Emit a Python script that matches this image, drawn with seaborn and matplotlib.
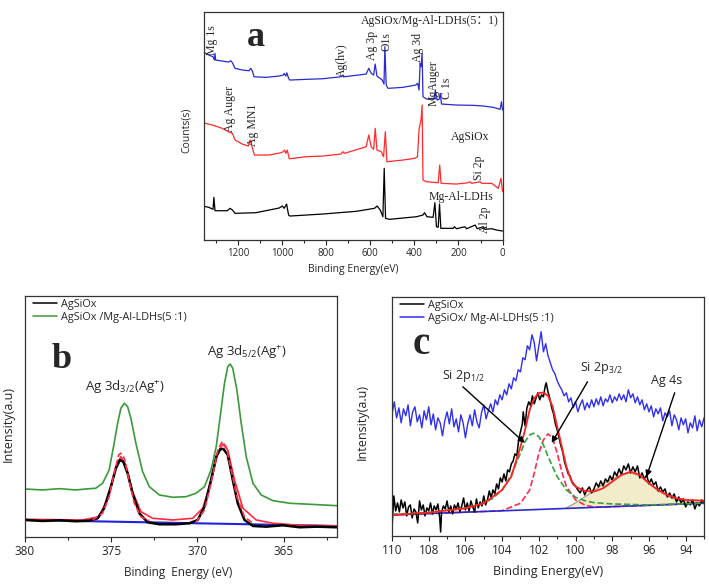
import matplotlib
matplotlib.use("Agg")
import matplotlib.pyplot as plt
import seaborn as sns
from matplotlib.ticker import MultipleLocator

sns.set_style("ticks")
plt.rcParams['font.family'] = ['Open Sans', 'DejaVu Sans']
plt.rcParams['mathtext.default'] = 'regular'

# ---------------- Panel a : survey spectra ----------------
a_blue_be = [1360, 1333, 1314, 1308, 1305, 1302, 1272, 1244, 1234, 1226, 1214, 1181, 1150, 1143, 1135, 1128,
             1074, 1014, 995, 991, 983, 979, 971, 965, 892, 816, 733, 725, 717, 619, 607, 596, 585, 578, 570,
             546, 538, 534, 528, 520, 452, 394, 385, 379, 374, 370, 365, 361, 345, 312, 305, 297, 288, 283,
             277, 209, 133, 87, 42, 11, 5, 0]
a_blue_val = [188.3, 185, 183.3, 180, 186.7, 180, 179, 178, 179.3, 177.3, 171.7, 170, 169.3, 171.7, 169, 163.3,
              162.7, 164, 165, 166.7, 164, 167.3, 161.7, 160, 160.7, 161.3, 163.3, 165, 163.3, 166, 171.7, 166.7,
              165, 176, 164, 160, 156, 193.3, 155, 151.7, 152.7, 155, 156.7, 150, 176.7, 173.3, 186.7, 143.3,
              141, 140.7, 149.3, 140, 140.7, 146.7, 136, 135, 134.7, 134, 132.7, 130.7, 138.3, 130]

a_red_be = [1360, 1317, 1272, 1244, 1234, 1226, 1214, 1181, 1154, 1145, 1135, 1126, 1059, 1006, 995, 989, 983,
            977, 968, 892, 816, 733, 725, 717, 619, 607, 596, 585, 578, 570, 550, 540, 532, 525, 452, 398, 386,
            379, 374, 370, 365, 361, 345, 292, 285, 279, 209, 156, 148, 140, 102, 95, 49, 19, 7, 0]
a_red_val = [117.3, 115, 111.7, 108.3, 107.3, 106.7, 100, 96, 94, 100, 91.7, 85, 85, 87.3, 88.3, 90, 86.7,
             90, 81.3, 83.3, 84, 86, 88.3, 86.7, 93.3, 105, 93.3, 90.7, 111.7, 90, 88.3, 83.3, 108.3, 78.3, 80,
             81.7, 83.3, 110, 116, 120, 135, 60, 58.3, 57.3, 75, 56.7, 56, 57.3, 58.3, 56.7, 58.3, 56.7, 56.7,
             51.7, 61.7, 48.3]

a_black_be = [1360, 1333, 1314, 1310, 1305, 1249, 1237, 1226, 1214, 1120, 1014, 999, 991, 980, 971, 965, 816,
              664, 581, 569, 555, 543, 537, 531, 513, 391, 361, 354, 343, 315, 307, 300, 292, 286, 280, 224,
              218, 209, 171, 163, 124, 115, 87, 80, 49, 27, 0]
a_black_val = [34, 32.7, 30.7, 42.7, 29.3, 29.3, 31.7, 30, 26.7, 27.3, 32, 34, 31.7, 36, 25, 24, 26,
               28.7, 31.7, 34, 30, 23.3, 71.7, 21.7, 20.7, 23.3, 25, 27.3, 23.3, 22.7, 37.3, 13.3, 12.7, 36,
               11.7, 11.7, 13.3, 11.3, 13.3, 11.3, 15, 11.3, 13.3, 10.7, 11.3, 10, 9]

# ---------------- Panel b : Ag 3d ----------------
b_green_be = [380.0, 379.0, 378.0, 377.05, 376.47, 375.9, 375.5, 375.12, 374.83, 374.63, 374.44, 374.24, 374.05,
              373.86, 373.57, 373.18, 372.79, 372.21, 371.43, 370.66, 370.08, 369.59, 369.21, 368.91, 368.68,
              368.43, 368.24, 368.10, 367.95, 367.71, 367.46, 367.17, 366.78, 366.30, 365.62, 364.65, 363.49,
              361.90]
b_green_val = [48, 47, 48.3, 47, 48, 48.7, 53.7, 67, 93.7, 113.7, 128.7, 133.7, 130.3, 118.7, 93.7, 65.3, 50.3,
               42, 39.7, 40.3, 43.7, 50.3, 67, 90.3, 120.3, 153.7, 170.3, 173, 168.7, 147, 113.7, 80.3, 53.7,
               42, 36.3, 33.7, 32.7, 31.3]

b_black_be = [380.0, 379.0, 378.0, 377.05, 376.28, 375.79, 375.41, 375.02, 374.73, 374.50, 374.30, 374.05, 373.76,
              373.37, 372.89, 372.21, 371.24, 370.47, 369.98, 369.59, 369.21, 368.91, 368.68, 368.49, 368.24,
              367.95, 367.66, 367.27, 366.78, 366.01, 365.04, 364.07, 363.10, 361.90]
b_black_val = [17, 16, 16.7, 15.7, 16.3, 18.7, 28.7, 50.3, 68.7, 77, 75.3, 63.7, 43.7, 23.7, 14.7, 12.7, 12.7,
               13.7, 17, 30.3, 57, 80.3, 87.7, 88, 82, 57, 33.7, 17, 11, 10.3, 11.7, 9.7, 10.3, 9.7]

b_fit1_be = [376.09, 375.5, 375.12, 374.83, 374.57, 374.44, 374.24, 373.95, 373.66, 373.28, 372.79]
b_fit1_val = [17, 23.7, 40.3, 63.7, 82, 83.7, 78.7, 55.3, 33.7, 20.3, 16.3]
b_fit2_be = [370.08, 369.59, 369.21, 368.82, 368.57, 368.33, 368.04, 367.71, 367.27, 366.78]
b_fit2_val = [14.7, 27, 53.7, 87, 95.3, 90.3, 67, 40.3, 20.3, 13.7]

b_env_be = [380.0, 376.67, 375.7, 375.12, 374.73, 374.44, 374.15, 373.76, 373.28, 372.6, 371.43, 370.27, 369.69,
            369.21, 368.82, 368.53, 368.24, 367.85, 367.36, 366.59, 365.62, 364.07, 361.9]
b_env_val = [17.7, 17, 20.3, 42, 70.3, 80.3, 72, 45.3, 25.3, 18.7, 17, 18.7, 28.7, 55.3, 83.7, 93, 87, 57, 28.7,
             17, 13.7, 11.7, 11]

b_base_be = [380.0, 361.9]
b_base_val = [17, 11]

# ---------------- Panel c : Si 2p ----------------
c_black_be = [110.0, 109.9, 109.8, 109.7, 109.6, 109.5, 109.4, 109.3, 109.2, 109.1, 109.0, 108.9, 108.8, 108.7,
              108.6, 108.5, 108.4, 108.3, 108.2, 108.1, 108.0, 107.9, 107.8, 107.7, 107.6, 107.5, 107.4, 107.35,
              107.3, 107.2, 107.1, 107.0, 106.9, 106.8, 106.7, 106.6, 106.5, 106.4, 106.3, 106.2, 106.1, 106.0,
              105.9, 105.8, 105.7, 105.6, 105.5, 105.4, 105.3, 105.2, 105.1, 105.0, 104.9, 104.8, 104.7, 104.6,
              104.5, 104.4, 104.3, 104.2, 104.1, 104.0, 103.9, 103.8, 103.7, 103.6, 103.5, 103.4, 103.3, 103.2,
              103.1, 103.0, 102.9, 102.85, 102.75, 102.65, 102.55, 102.45, 102.35, 102.25, 102.15, 102.05,
              101.95, 101.85, 101.75, 101.65, 101.6, 101.5, 101.4, 101.3, 101.2, 101.1, 101.0, 100.9, 100.8,
              100.7, 100.6, 100.5, 100.4, 100.3, 100.2, 100.1, 100.0, 99.875, 99.75, 99.625, 99.5, 99.375, 99.25,
              99.125, 99.0, 98.875, 98.75, 98.625, 98.5, 98.375, 98.25, 98.125, 98.0, 97.875, 97.75, 97.625,
              97.5, 97.375, 97.25, 97.125, 97.0, 96.875, 96.75, 96.625, 96.5, 96.375, 96.25, 96.125, 96.0,
              95.875, 95.75, 95.625, 95.5, 95.375, 95.25, 95.125, 95.0, 94.875, 94.75, 94.625, 94.5, 94.375,
              94.25, 94.125, 94.0, 93.875, 93.75, 93.625, 93.5, 93.375, 93.25, 93.125, 93.0]
c_black_val = [8, 40, 25, 33, 24, 36, 28, 34, 20, 29, 31, 18, 27, 24, 13, 35, 26, 31, 20, 28, 25, 33, 22, 30,
               26, 32, 18, 4, 24, 30, 27, 35, 24, 30, 22, 31, 27, 33, 24, 30, 38, 26, 33, 25, 35, 29, 24, 37, 28,
               34, 30, 40, 31, 36, 45, 38, 46, 42, 52, 47, 58, 54, 62, 55, 66, 64, 72, 75, 82, 80, 96, 104, 112,
               124, 110, 128, 134, 130, 140, 132, 138, 143, 136, 141, 139, 150, 153, 144, 137, 128, 122, 112, 106,
               98, 90, 84, 74, 68, 62, 60, 54, 51, 50, 46, 43, 48, 41, 46, 49, 43, 47, 53, 49, 55, 50, 57, 54, 60,
               56, 64, 60, 67, 61, 70, 66, 72, 63, 69, 64, 70, 58, 63, 57, 61, 52, 57, 51, 54, 45, 49, 44, 47, 39,
               43, 38, 42, 34, 39, 33, 37, 29, 34, 31, 36, 27, 33, 30, 36, 33]

c_blue_be = [110.0, 109.875, 109.75, 109.625, 109.5, 109.375, 109.25, 109.125, 109.0, 108.875, 108.75, 108.625,
             108.5, 108.375, 108.25, 108.125, 108.0, 107.875, 107.75, 107.625, 107.5, 107.375, 107.25, 107.125,
             107.0, 106.875, 106.75, 106.625, 106.5, 106.375, 106.25, 106.125, 106.0, 105.875, 105.75, 105.625,
             105.5, 105.375, 105.25, 105.125, 105.0, 104.875, 104.75, 104.625, 104.5, 104.375, 104.25, 104.125,
             104.0, 103.875, 103.75, 103.625, 103.5, 103.375, 103.25, 103.125, 103.0, 102.875, 102.75, 102.625,
             102.5, 102.375, 102.25, 102.125, 102.0, 101.875, 101.75, 101.625, 101.5, 101.375, 101.25, 101.125,
             101.0, 100.875, 100.75, 100.625, 100.5, 100.375, 100.25, 100.125, 100.0, 99.875, 99.75, 99.625,
             99.5, 99.375, 99.25, 99.125, 99.0, 98.875, 98.75, 98.625, 98.5, 98.375, 98.25, 98.125, 98.0,
             97.875, 97.75, 97.625, 97.5, 97.375, 97.25, 97.125, 97.0, 96.875, 96.75, 96.625, 96.5, 96.375,
             96.25, 96.125, 96.0, 95.875, 95.75, 95.625, 95.5, 95.375, 95.25, 95.125, 95.0, 94.875, 94.75,
             94.625, 94.5, 94.375, 94.25, 94.125, 94.0, 93.875, 93.75, 93.625, 93.5, 93.375, 93.25, 93.125, 93.0]
c_blue_val = [122, 134, 118, 128, 113, 127, 120, 131, 110, 124, 129, 114, 121, 108, 125, 116, 129, 111, 122, 106,
              118, 113, 100, 115, 124, 112, 127, 109, 117, 104, 121, 113, 98, 112, 121, 110, 126, 114, 108, 123,
              131, 117, 125, 132, 124, 136, 131, 141, 136, 146, 141, 152, 147, 158, 155, 166, 164, 178, 176, 190,
              186, 201, 193, 175, 190, 204, 184, 192, 180, 173, 166, 162, 155, 150, 146, 140, 143, 134, 138, 128,
              134, 124, 131, 136, 126, 133, 128, 136, 129, 137, 131, 139, 130, 137, 134, 141, 133, 139, 135, 142,
              136, 141, 134, 146, 138, 142, 133, 139, 131, 136, 126, 132, 124, 130, 119, 127, 122, 128, 115, 123,
              119, 125, 110, 121, 116, 106, 118, 111, 117, 103, 113, 108, 120, 105, 116, 109, 118]

c_env_be = [110, 108, 106, 105, 104.5, 104, 103.5, 103, 102.75, 102.5, 102.25, 102.0, 101.75, 101.5, 101.25,
            101.0, 100.75, 100.5, 100.25, 100.0, 99.5, 99.0, 98.5, 98.0, 97.5, 97.0, 96.5, 96.0, 95.5, 95.0,
            94.5, 94.0, 93.0]
c_env_val = [21, 23.3, 27.7, 32.7, 39.3, 46, 59.3, 89.3, 106, 126, 137.7, 142.7, 143.3, 140, 129.3, 109.3, 89.3,
             69.3, 56, 49.3, 45, 44.3, 47.7, 54.3, 61, 64.3, 61, 52.7, 46, 41, 37.7, 36, 35.3]

c_p12_be = [110, 108, 106, 105, 104.5, 104, 103.5, 103.0, 102.75, 102.5, 102.3, 102.0, 101.75, 101.5, 101.0,
            100.5, 100.0, 99.5, 99, 98, 96, 93]
c_p12_val = [21.7, 23.3, 27.7, 32.7, 37.7, 46, 61, 82.7, 94.3, 101, 102.7, 99.3, 91, 79.3, 59.3, 46, 38.7, 35.3,
             33.3, 32, 31, 32.7]

c_p32_be = [110, 106, 104, 103, 102.5, 102.25, 102.0, 101.75, 101.5, 101.25, 101.0, 100.75, 100.5, 100.0, 99.5,
            99, 98, 96, 93]
c_p32_val = [21, 23.8, 25.3, 32.7, 46, 62.7, 82.7, 96, 102, 97.7, 82.7, 64.3, 49.3, 36, 31, 28.8, 29.3, 30.6, 32.7]

c_ag4s_be = [100.5, 100, 99.5, 99, 98.5, 98, 97.5, 97.0, 96.5, 96, 95.5, 95, 94.5, 94, 93]
c_ag4s_val = [28, 33, 39, 45, 52, 57, 61, 63, 60, 52, 45, 40, 36, 34, 33.5]

c_base_be = [110, 93]
c_base_val = [21, 32.7]

# ---------------- figure ----------------
fig = plt.figure(figsize=(7.09, 5.85), dpi=100)
ax_a = fig.add_axes([0.2877, 0.5897, 0.4211, 0.3897])
ax_b = fig.add_axes([0.0353, 0.0821, 0.4401, 0.4120])
ax_c = fig.add_axes([0.5529, 0.0838, 0.4401, 0.4090])

kw = dict(estimator=None, sort=False, legend=False)

# panel a
sns.lineplot(x=a_blue_be, y=a_blue_val, ax=ax_a, color='#2a2ad0', linewidth=0.9, **kw)
sns.lineplot(x=a_red_be, y=a_red_val, ax=ax_a, color='#ff2a2a', linewidth=0.9, **kw)
sns.lineplot(x=a_black_be, y=a_black_val, ax=ax_a, color='black', linewidth=0.9, **kw)
ax_a.set_xlim(1355, 0)
ax_a.set_ylim(0, 228)

# panel b
sns.lineplot(x=b_base_be, y=b_base_val, ax=ax_b, color='#2020e0', linewidth=1.5, **kw)
sns.lineplot(x=b_env_be, y=b_env_val, ax=ax_b, color='#ff2a3a', linewidth=1.2, **kw)
sns.lineplot(x=b_black_be, y=b_black_val, ax=ax_b, color='black', linewidth=1.8, label='AgSiOx',
             estimator=None, sort=False)
sns.lineplot(x=b_fit1_be, y=b_fit1_val, ax=ax_b, color='#ff3050', linewidth=1.2, linestyle='--', **kw)
sns.lineplot(x=b_fit2_be, y=b_fit2_val, ax=ax_b, color='#ff3050', linewidth=1.2, linestyle='--', **kw)
sns.lineplot(x=b_green_be, y=b_green_val, ax=ax_b, color='#3a9a3a', linewidth=1.2,
             label='AgSiOx /Mg-Al-LDHs(5 :1)', estimator=None, sort=False)
ax_b.set_xlim(380, 361.9)
ax_b.set_ylim(0, 241)

# panel c
base_at = [c_base_val[0] + (c_base_val[1] - c_base_val[0]) * (c_base_be[0] - b) / (c_base_be[0] - c_base_be[1])
           for b in c_ag4s_be]
ax_c.fill_between(c_ag4s_be, base_at, c_ag4s_val, color='#f3eccb', linewidth=0)
sns.lineplot(x=c_ag4s_be, y=c_ag4s_val, ax=ax_c, color='#a8a080', linewidth=0.9, **kw)
sns.lineplot(x=c_p32_be, y=c_p32_val, ax=ax_c, color='#ff2a50', linewidth=1.2, linestyle='--', **kw)
sns.lineplot(x=c_base_be, y=c_base_val, ax=ax_c, color='#2a2ad0', linewidth=1.2, **kw)
sns.lineplot(x=c_blue_be, y=c_blue_val, ax=ax_c, color='#2f2ff0', linewidth=1.0,
             label='AgSiOx/ Mg-Al-LDHs(5 :1)', estimator=None, sort=False)
sns.lineplot(x=c_black_be, y=c_black_val, ax=ax_c, color='black', linewidth=1.1, label='AgSiOx',
             estimator=None, sort=False)
sns.lineplot(x=c_p12_be, y=c_p12_val, ax=ax_c, color='#3aa03a', linewidth=1.2, linestyle='--', **kw)
sns.lineplot(x=c_env_be, y=c_env_val, ax=ax_c, color='#ff2020', linewidth=1.3, **kw)
ax_c.set_xlim(110, 93)
ax_c.set_ylim(0, 239)

# axes styling
for ax, maj, mnr, fs in [(ax_a, 200, 100, 7), (ax_b, 5, 2.5, 8.5), (ax_c, 2, 1, 8.5)]:
    ax.xaxis.set_major_locator(MultipleLocator(maj))
    ax.xaxis.set_minor_locator(MultipleLocator(mnr))
    ax.set_yticks([])
    ax.tick_params(axis='x', which='both', direction='out', top=False, labelsize=fs, pad=2)
    ax.tick_params(axis='x', which='major', length=3.5, width=0.8)
    ax.tick_params(axis='x', which='minor', length=2.5, width=0.8)
    for s in ax.spines.values():
        s.set_visible(True)
        s.set_linewidth(0.9)
        s.set_color('#333333')

# labels
ax_a.set_xlabel('Binding Energy(eV)', fontsize=7.5)
ax_a.xaxis.set_label_coords(0.5, -0.105)
ax_a.set_ylabel('Counts(s)', fontsize=7.5)
ax_a.yaxis.set_label_coords(-0.04, 0.48)

ax_b.set_xlabel('Binding  Energy (eV)', fontsize=8.5)
ax_b.xaxis.set_label_coords(0.49, -0.12)
ax_b.set_ylabel('Intensity(a.u)', fontsize=9)
ax_b.yaxis.set_label_coords(-0.032, 0.47)

ax_c.set_xlabel('Binding Energy(eV)', fontsize=9)
ax_c.xaxis.set_label_coords(0.5, -0.12)
ax_c.set_ylabel('Intensity(a.u)', fontsize=9)
ax_c.yaxis.set_label_coords(-0.074, 0.477)

# legends
for ax, order in [(ax_b, None), (ax_c, [1, 0])]:
    h, l = ax.get_legend_handles_labels()
    if order:
        h = [h[i] for i in order]
        l = [l[i] for i in order]
    leg = ax.legend(h, l, loc='upper left', bbox_to_anchor=(0.005, 1.015), frameon=False, fontsize=7.8,
                    handlelength=2.2, handletextpad=0.35, labelspacing=0.2, borderaxespad=0.2)
    for ln in leg.get_lines():
        ln.set_linewidth(1.1)

# panel a annotations (serif)
serif = ['Liberation Serif', 'Noto Sans CJK SC']
ann_a = [
    ('Mg 1s', 1319, 200, 90),
    ('Ag(hv)', 727, 180, 90),
    ('Ag 3p', 591, 195, 90),
    ('O1s', 528, 198, 90),
    ('Ag 3d', 385, 193, 90),
    ('MgAuger', 312, 157, 90),
    ('C 1s', 254, 152, 90),
    ('Ag Auger', 1238, 131, 90),
    ('Ag MN1', 1132, 115, 90),
    ('Si 2p', 107, 72, 90),
    ('Al 2p', 80, 20, 90),
    ('AgSiOx', 146, 103, 0),
    ('Mg-Al-LDHs', 190, 43, 0),
    ('AgSiOx/Mg-Al-LDHs(5\uff1a1)', 330, 219, 0),
]
for t, x, y, r in ann_a:
    ax_a.text(x, y, t, rotation=r, ha='center', va='center', fontsize=8.5, family=serif)
ax_a.text(1118, 203, 'a', ha='center', va='center', fontsize=26, fontweight='bold', family='Liberation Serif')

# panel b annotations
ax_b.text(377.85, 177, 'b', ha='center', va='center', fontsize=26, fontweight='bold', family='Liberation Serif')
ax_b.text(374.2, 150, 'Ag 3d$_{3/2}$(Ag$^{+}$)', ha='center', va='center', fontsize=9.5)
ax_b.text(367.15, 185, 'Ag 3d$_{5/2}$(Ag$^{+}$)', ha='center', va='center', fontsize=9.5)

# panel c annotations
ax_c.text(108.4, 191, 'c', ha='center', va='center', fontsize=28, fontweight='bold', family='Liberation Serif')
ax_c.text(106.1, 160, 'Si 2p$_{1/2}$', ha='center', va='center', fontsize=9)
ax_c.text(98.6, 168, 'Si 2p$_{3/2}$', ha='center', va='center', fontsize=9)
ax_c.text(95.05, 155, 'Ag 4s', ha='center', va='center', fontsize=9)
arrow = dict(arrowstyle='-|>', color='black', lw=1.0, mutation_scale=9, shrinkA=0, shrinkB=0)
ax_c.annotate('', xy=(102.77, 93), xytext=(106.14, 149), arrowprops=arrow)
ax_c.annotate('', xy=(101.3, 93), xytext=(99.35, 154), arrowprops=arrow)
ax_c.annotate('', xy=(96.14, 59), xytext=(94.6, 143), arrowprops=arrow)

fig.savefig('out.png', dpi=100)
